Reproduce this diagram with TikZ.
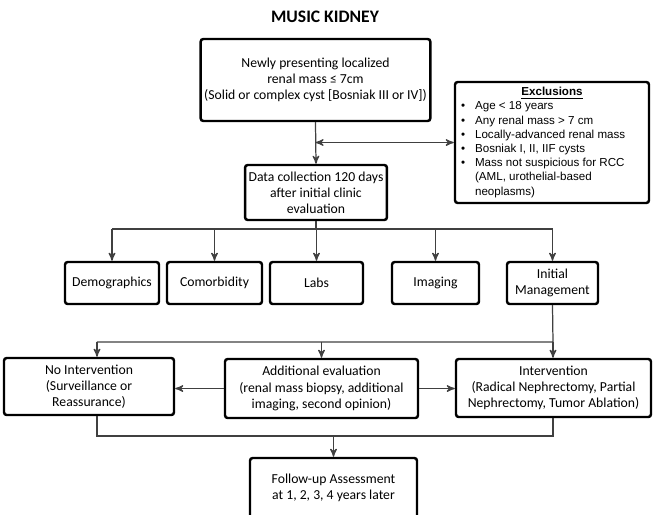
\documentclass[tikz,border=0pt]{standalone}
\usepackage{fontspec}
\setmainfont{Carlito}
\newfontfamily\arialfont{Liberation Sans}
\usetikzlibrary{arrows}

\newcommand{\exitem}[1]{\makebox[8pt][l]{\textbullet}#1}
\newcommand{\excont}[1]{\hspace*{8pt}#1}

\begin{document}
\begin{tikzpicture}[x=0.02cm, y=-0.02cm, >=stealth',
        box/.style={rectangle, draw, line width=1.4pt, rounded corners=1.5pt, align=center, inner sep=2pt, font=\fontsize{7.8}{9.2}\selectfont},
        link/.style={draw=black!75, line width=0.7pt}]
        \useasboundingbox (0,0) rectangle (654,515);
        \clip (0,0) rectangle (654,515);

        \node at (325,17) [font=\bfseries\fontsize{10}{12}\selectfont] (title) {MUSIC KIDNEY};

        \node at (315.5,80) [box, minimum width=4.54cm, minimum height=1.64cm] (mass) {Newly presenting localized\\renal mass ≤ 7cm\\(Solid or complex cyst [Bosniak III or IV])};
        \node at (552,142.5) [box, minimum width=3.88cm, minimum height=2.42cm, font=\arialfont\fontsize{6.6}{8.1}\selectfont] (excl) {%
            \begin{tabular}{@{}p{3.64cm}@{}}
                \multicolumn{1}{@{}c@{}}{\underline{\textbf{Exclusions}}}\\
                \exitem{Age < 18 years}\\
                \exitem{Any renal mass > 7 cm}\\
                \exitem{Locally-advanced renal mass}\\
                \exitem{Bosniak I, II, IIF cysts}\\
                \exitem{Mass not suspicious for RCC}\\
                \excont{(AML, urothelial-based}\\
                \excont{neoplasms)}
            \end{tabular}};
        \node at (316,192.5) [box, minimum width=2.8cm, minimum height=1.1cm] (data) {Data collection 120 days\\after initial clinic\\evaluation};

        \node at (112,283)   [box, minimum width=1.88cm, minimum height=0.84cm] (demo) {Demographics};
        \node at (214.5,283) [box, minimum width=1.9cm, minimum height=0.84cm] (comorb) {Comorbidity};
        \node at (316.5,283) [box, minimum width=1.86cm, minimum height=0.84cm] (labs) {Labs};
        \node at (435.5,283) [box, minimum width=1.74cm, minimum height=0.84cm] (imaging) {Imaging};
        \node at (552.5,283) [box, minimum width=1.82cm, minimum height=0.84cm] (initmgmt) {Initial\\Management};

        \node at (89,386.5)    [box, minimum width=3.4cm, minimum height=1.14cm] (noint) {No Intervention\\(Surveillance or\\Reassurance)};
        \node at (321.5,388.5) [box, minimum width=3.86cm, minimum height=1.18cm] (addeval) {Additional evaluation\\(renal mass biopsy, additional\\imaging, second opinion)};
        \node at (553.5,388)   [box, minimum width=3.9cm, minimum height=1.16cm] (interv) {Intervention\\(Radical Nephrectomy, Partial\\Nephrectomy, Tumor Ablation)};

        \node at (333.5,488) [box, minimum width=3.34cm, minimum height=1.2cm] (followup) {Follow-up Assessment\\at 1, 2, 3, 4 years later};

        % junctions
        \coordinate (j_excl) at (mass.south |- excl.west);
        \coordinate (j_row) at (316,229);
        \coordinate (j_mgmt) at (553,342);
        \coordinate (j_noint) at (97,342);
        \coordinate (j_follow) at (333,436);

        \draw[link, ->] (mass.south) -- (data.north);
        \draw[link, <->] (j_excl) -- (excl.west);

        \draw[link] (data.south) -- (j_row);
        \draw[link] (demo |- j_row) -- (initmgmt |- j_row);
        \foreach \n in {demo, comorb, labs, imaging, initmgmt}
            \draw[link, ->] (\n |- j_row) -- (\n.north);

        \draw[link] (initmgmt.south) -- (j_mgmt) -- (j_noint);
        \draw[link, ->] (j_noint) -- (j_noint |- noint.north);
        \draw[link, ->] (addeval.north |- j_mgmt) -- (addeval.north);
        \draw[link, ->] (j_mgmt) -- (j_mgmt |- interv.north);

        \draw[link, ->] (addeval.west) -- (addeval.west -| noint.east);
        \draw[link, ->] (addeval.east) -- (addeval.east -| interv.west);

        \draw[link] (j_noint |- noint.south) -- (j_noint |- j_follow) -- (j_mgmt |- j_follow) -- (j_mgmt |- interv.south);
        \draw[link, ->] (followup.north |- j_follow) -- (followup.north);
\end{tikzpicture}
\end{document}
